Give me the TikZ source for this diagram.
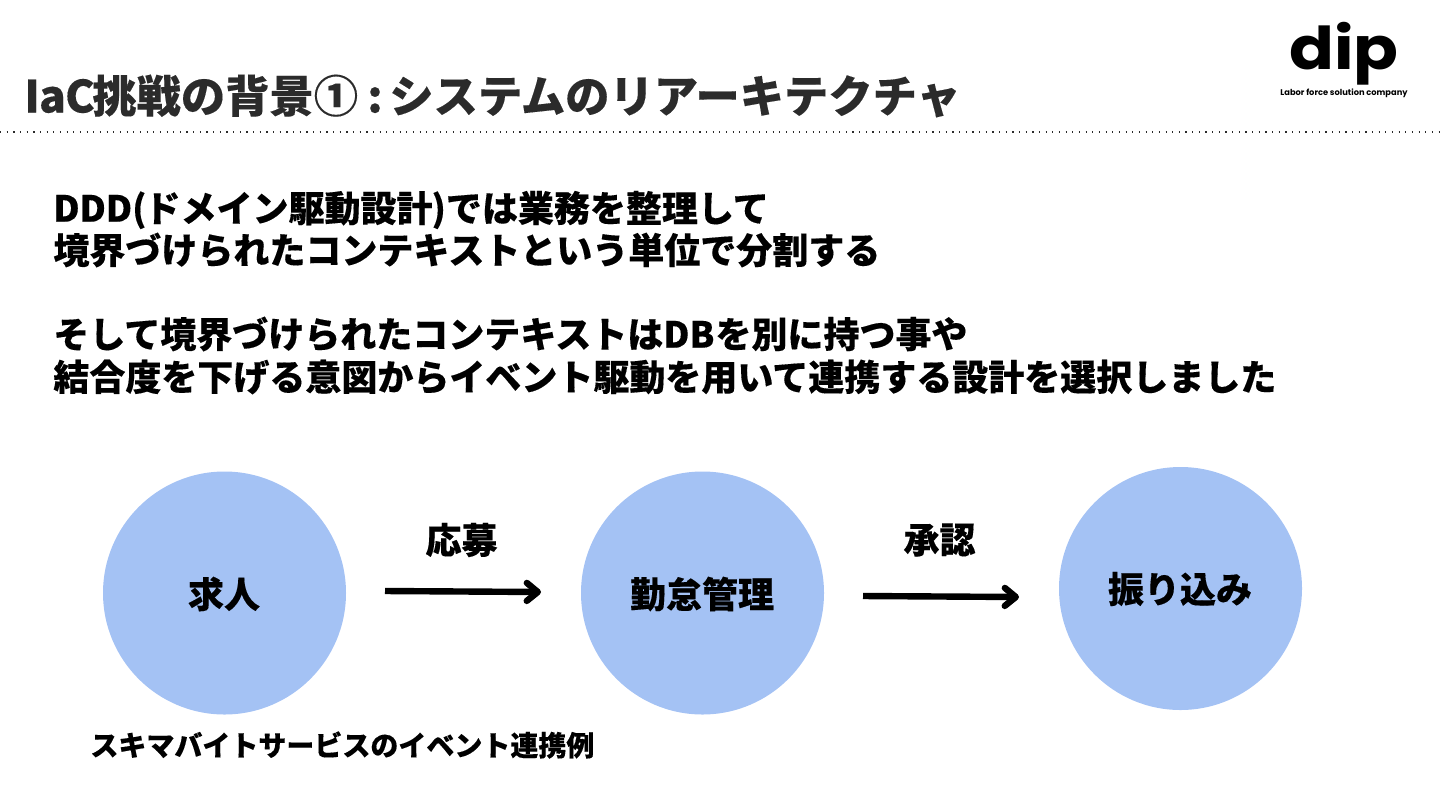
\documentclass[tikz,border=0pt]{standalone}
\usepackage{fontspec}
\setmainfont{Noto Sans CJK JP}[BoldFeatures={FakeBold=0.25}]
\newfontfamily\logofont{Poppins}
\usetikzlibrary{arrows.meta}
\definecolor{circleblue}{HTML}{A4C2F4}
\definecolor{titlegray}{HTML}{2B2B2B}
\tikzset{
    every node/.style={inner sep=0pt, font=\bfseries},
    contextcircle/.style={circle, fill=circleblue, minimum size=121.5pt},
    contextlabel/.style={font=\fontsize{18}{18}\selectfont\bfseries},
    bodyline/.style={anchor=west, font=\fontsize{18}{18}\selectfont\bfseries},
    flowarrow/.style={line width=3.2pt, -{Straight Barb[length=5.5pt, width=9pt, line width=3.2pt, round]}},
}

\begin{document}
\begin{tikzpicture}[x=0.5pt, y=-0.5pt]
    \useasboundingbox (0,0) rectangle (1440,810);
% Header
    \node[anchor=west, text=titlegray, font=\fontsize{22.15}{22}\selectfont\bfseries] (title) at (24,96) {I\kern-0.4pt a\kern-0.4pt C\kern-1.2pt 挑戦の背景①\kern-0.5pt{} :\kern-3.5pt{} システムのリアーキテクチャ};
    \coordinate (ruleL) at (0,132);
    \coordinate (ruleR) at (1440,132);
    \draw[line width=0.6pt, titlegray, dash pattern=on 0.6pt off 2.73pt] (ruleL) -- (ruleR);
% Logo
    \node[anchor=base, transform shape, xscale=1.12, font=\logofont\fontsize{29.5}{30}\selectfont\bfseries] (logo) at (1344,69.5) {dip};
    \node[font=\logofont\fontsize{4.15}{4.2}\selectfont\bfseries] (tagline) at (1344,93) {Labor force solution company};
% Body text
    \node[bodyline] (bodyA) at (53,210) {DDD(\kern-1pt ドメイン駆動設計\kern-0.5pt)では業務を整理して};
    \node[bodyline] (bodyB) at (53,250) {境界づけられたコンテキストという単位で分割する};
    \node[bodyline] (bodyC) at (53,334) {そして境界づけられたコンテキストはDB\kern0.5pt を別に持つ事や};
    \node[bodyline] (bodyD) at (53,377) {結合度を下げる意図からイベント駆動を用いて連携する設計を選択しました};
% Contexts
    \node[contextcircle] (job) at (224.5,593) {};
    \node[contextcircle] (attendance) at (702.5,593) {};
    \node[contextcircle] (payment) at (1180.5,588.5) {};
    \node[contextlabel] (jobL) at (224,594) {求人};
    \node[contextlabel] (attendanceL) at (702,594) {勤怠管理};
    \node[contextlabel] (paymentL) at (1180,589) {振り込み};
% Events
    \node[contextlabel] (apply) at (461.5,540) {応募};
    \node[contextlabel] (approve) at (939.5,540) {承認};
    \coordinate (applyS) at (385,591);
    \coordinate (applyE) at (541,592);
    \coordinate (approveS) at (863,596);
    \coordinate (approveE) at (1019,597);
    \draw[flowarrow] (applyS) -- (applyE);
    \draw[flowarrow] (approveS) -- (approveE);
% Caption
    \node[anchor=west, font=\fontsize{14}{14}\selectfont\bfseries] (caption) at (90,745) {スキマバイトサービスのイベント連携例};
\end{tikzpicture}
\end{document}
